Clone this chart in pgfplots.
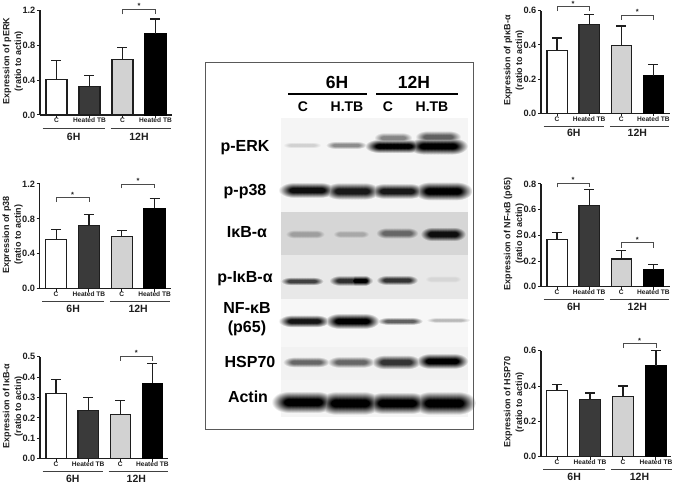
\documentclass[border=0pt]{standalone}
\usepackage{fontspec}
\setmainfont{Liberation Sans}
\usepackage{pgfplots}
\pgfplotsset{compat=1.18}
\definecolor{bc}{HTML}{1E1E1E}
\definecolor{darkbar}{HTML}{3A3A3A}
\definecolor{graybar}{HTML}{D2D2D2}
\colorlet{bandc}{black}
\pgfdeclareradialshading[bandc]{band}{\pgfpointorigin}{color(0bp)=(bandc);color(7bp)=(bandc);color(25bp)=(white);color(50bp)=(white)}
% a soft band: a row of overlapping soft ellipses, kept in "darken" mode so that they merge
\newcommand\band[5]{\colorlet{bandc}{black!#5!white}%
  \foreach \k in {-0.6,-0.45,-0.3,-0.15,0,0.15,0.3,0.45,0.6}{\shade[shading=band, blend mode=darken] ({#1+\k*#3},#2) ellipse ({0.5*#3+#4*0.9} and {#4*1.6});}}
\newcommand\blotbg[3]{\fill[#3] (281,#1) rectangle (468,#2);}
\pgfplotsset{
  panel/.style={
    scale only axis, clip=false, ybar, bar shift=0pt, anchor=south west,
    axis x line=bottom, axis y line=left,
    axis line style={-, line width=1.3pt, color=bc},
    tick style={line width=1pt, color=bc},
    tick align=outside, major tick length=3pt,
    ymin=0, xmin=-0.5, xmax=3.5,
    xtick={0,1,2,3}, xticklabels={C,Heated TB,C,Heated TB},
    xticklabel style={font=\bfseries\fontsize{6.6}{7}\selectfont, inner sep=0.5pt, text=bc, yshift=0.5pt},
    yticklabel style={font=\bfseries\fontsize{9.2}{10}\selectfont, inner sep=1.5pt, text=bc,
      /pgf/number format/assume math mode=true, /pgf/number format/fixed, /pgf/number format/fixed zerofill, /pgf/number format/precision=1},
    ylabel style={xshift=1.5pt, yshift=8pt, anchor=center, align=center,
      font=\bfseries\fontsize{9}{11.7}\selectfont, text=bc},
  },
  errs/.style={error bars/.cd, y dir=plus, y explicit,
    error bar style={line width=1.2pt, color=bc},
    error mark options={rotate=90, mark size=5pt, line width=1.2pt, color=bc}},
}
\newcommand\panelbars[8]{
  \addplot[fill=white, draw=bc, line width=1.2pt, errs] coordinates {(0,#1) +- (0,#2)};
  \addplot[fill=darkbar, draw=bc, line width=1.2pt, errs] coordinates {(1,#3) +- (0,#4)};
  \addplot[fill=graybar, draw=bc, line width=1.2pt, errs] coordinates {(2,#5) +- (0,#6)};
  \addplot[fill=black, draw=black, line width=1.2pt, errs] coordinates {(3,#7) +- (0,#8)};
}
\newcommand\groups[1]{
  \draw[line width=0.9pt, color=bc!85] ([yshift=-13pt]axis cs:-0.42,0) -- ([yshift=-13pt]axis cs:1.46,0);
  \draw[line width=0.9pt, color=bc!85] ([yshift=-13pt]axis cs:1.64,0) -- ([yshift=-13pt]axis cs:3.48,0);
  \node[font=\bfseries\fontsize{10.5}{11}\selectfont, text=bc] at ([yshift=-#1pt]axis cs:0.52,0) {6H};
  \node[font=\bfseries\fontsize{10.5}{11}\selectfont, text=bc] at ([yshift=-#1pt]axis cs:2.5,0) {12H};
}
\newcommand\bracket[5]{
  \draw[line width=0.7pt, color=bc!80] (axis cs:#1,#4) -- (axis cs:#1,#3) -- (axis cs:#2,#3) -- (axis cs:#2,#4);
  \node[font=\bfseries\fontsize{7.5}{8}\selectfont, inner sep=0pt, text=bc] at (axis cs:{(#1+#2)/2},#5) {*};
}
\begin{document}
\begin{tikzpicture}[x=1pt,y=1pt]
\path[use as bounding box] (0,0) rectangle (675,484);

% ---------- left column ----------
\begin{axis}[panel, at={(40pt,369pt)}, width=132pt, height=104.7pt, ymax=1.2, bar width=21pt,
  ytick={0,0.4,0.8,1.2}, ylabel={Expression of pERK\\(ratio to actin)}]
\panelbars{0.41}{0.21}{0.33}{0.12}{0.64}{0.13}{0.93}{0.17}
\groups{22}
\bracket{2}{3}{1.207}{1.154}{1.25}
\end{axis}

\begin{axis}[panel, at={(39.7pt,195.3pt)}, width=131.3pt, height=104.7pt, ymax=1.2, bar width=21pt,
  ytick={0,0.4,0.8,1.2}, ylabel={Expression of p38\\(ratio to actin)}]
\panelbars{0.56}{0.12}{0.72}{0.13}{0.60}{0.07}{0.92}{0.11}
\groups{20}
\bracket{0}{1}{1.05}{0.993}{1.08}
\bracket{2}{3}{1.2}{1.15}{1.24}
\end{axis}

\begin{axis}[panel, at={(40pt,25.3pt)}, width=128.5pt, height=102pt, ymax=0.5, bar width=20.2pt,
  ytick={0,0.1,0.2,0.3,0.4,0.5}, ylabel={Expression of IκB-α\\(ratio to actin)}]
\panelbars{0.32}{0.07}{0.235}{0.065}{0.218}{0.067}{0.37}{0.095}
\groups{20.5}
\bracket{2}{3}{0.503}{0.48}{0.518}
\end{axis}

% ---------- right column ----------
\begin{axis}[panel, at={(541pt,370.7pt)}, width=128.5pt, height=102.6pt, ymax=0.6, bar width=20.2pt,
  ytick={0,0.2,0.4,0.6}, ylabel={Expression of pIκB-α\\(ratio to actin)}]
\panelbars{0.365}{0.075}{0.52}{0.06}{0.395}{0.115}{0.22}{0.065}
\groups{20}
\bracket{0}{1}{0.626}{0.597}{0.642}
\bracket{2}{3}{0.575}{0.546}{0.592}
\end{axis}

\begin{axis}[panel, at={(541pt,197.3pt)}, width=128.5pt, height=102.7pt, ymax=0.8, bar width=20.2pt,
  ytick={0,0.2,0.4,0.6,0.8}, ylabel={Expression of NF-κB (p65)\\(ratio to actin)}]
\panelbars{0.365}{0.055}{0.63}{0.13}{0.215}{0.065}{0.13}{0.045}
\groups{20}
\bracket{0}{1}{0.805}{0.774}{0.835}
\bracket{2}{3}{0.343}{0.304}{0.365}
\end{axis}

\begin{axis}[panel, at={(541pt,27.3pt)}, width=129.5pt, height=106pt, ymax=0.6, bar width=21pt,
  xmin=-0.485, xmax=3.44,
  ytick={0,0.2,0.4,0.6}, ylabel={Expression of HSP70\\(ratio to actin)}]
\panelbars{0.375}{0.035}{0.325}{0.035}{0.34}{0.06}{0.515}{0.085}
\groups{20}
\bracket{2}{3}{0.64}{0.615}{0.658}
\end{axis}

% ---------- centre: blot picture ----------
\begin{scope}[y=-1pt, yshift=484pt]
\draw[line width=1pt, color=black!65] (205.3,62.3) rectangle (473,430);
\blotbg{118}{212}{black!4}
\blotbg{212}{255}{black!16}
\blotbg{255}{299}{black!9}
\blotbg{299}{347}{black!3}
\blotbg{347}{380}{black!5}
\blotbg{380}{417}{black!4}
\band{302}{145}{17}{2.2}{18}
\band{346}{145}{17}{2.6}{45}
\band{393}{137.7}{15}{3.5}{48}
\band{393.7}{146}{23}{4.5}{100}
\band{438}{136.7}{18}{4}{62}
\band{438}{146}{23}{5.5}{100}
\band{307}{190}{22}{5}{95}
\band{352}{191}{21}{5.5}{90}
\band{397}{191}{21}{5}{90}
\band{443}{191}{22}{6}{100}
\band{305}{234}{18}{3.8}{38}
\band{351}{234}{17}{3.5}{34}
\band{397}{233}{18}{4.2}{60}
\band{443}{234}{18}{5}{95}
\band{302}{281}{18}{2.8}{75}
\band{351}{280.5}{18}{3.5}{82}
\band{360}{280.5}{8}{3.5}{100}
\band{397}{280}{17}{3.3}{80}
\band{443}{279}{18}{3.5}{16}
\band{304}{321}{20}{4}{92}
\band{352}{321}{21}{5}{100}
\band{400}{321}{19}{2.5}{62}
\band{448}{320}{19}{1.8}{28}
\band{306}{362}{19}{3.5}{60}
\band{351}{362}{19}{3.8}{60}
\band{396}{362}{19}{4.7}{80}
\band{442}{361}{20}{5}{100}
\band{303}{402}{23}{7}{100}
\band{350}{403}{23}{7.5}{100}
\band{397}{403}{23}{7}{100}
\band{444}{403}{23}{7.5}{100}

\tikzset{bh/.style={font=\bfseries\fontsize{17.5}{18}\selectfont, text=black},
         bs/.style={font=\bfseries\fontsize{14}{15}\selectfont, text=black},
         bl/.style={font=\bfseries\fontsize{16}{17}\selectfont, text=black}}
\node[bh] at (337,82) {6H};
\node[bh] at (414,82) {12H};
\draw[line width=2pt] (288,93.7) -- (367,93.7);
\draw[line width=2pt] (376,93.7) -- (458,93.7);
\node[bs] at (303,107) {C};
\node[bs] at (347,107) {H.TB};
\node[bs] at (388,107) {C};
\node[bs] at (432,107) {H.TB};
\node[bl] at (245,148) {p-ERK};
\node[bl] at (245,192) {p-p38};
\node[bl] at (247,232) {IκB-α};
\node[bl] at (245,279) {p-IκB-α};
\node[bl] at (247,308) {NF-κB};
\node[bl] at (247,328) {(p65)};
\node[bl] at (250,362) {HSP70};
\node[bl] at (248,397) {Actin};
\end{scope}
\end{tikzpicture}
\end{document}
